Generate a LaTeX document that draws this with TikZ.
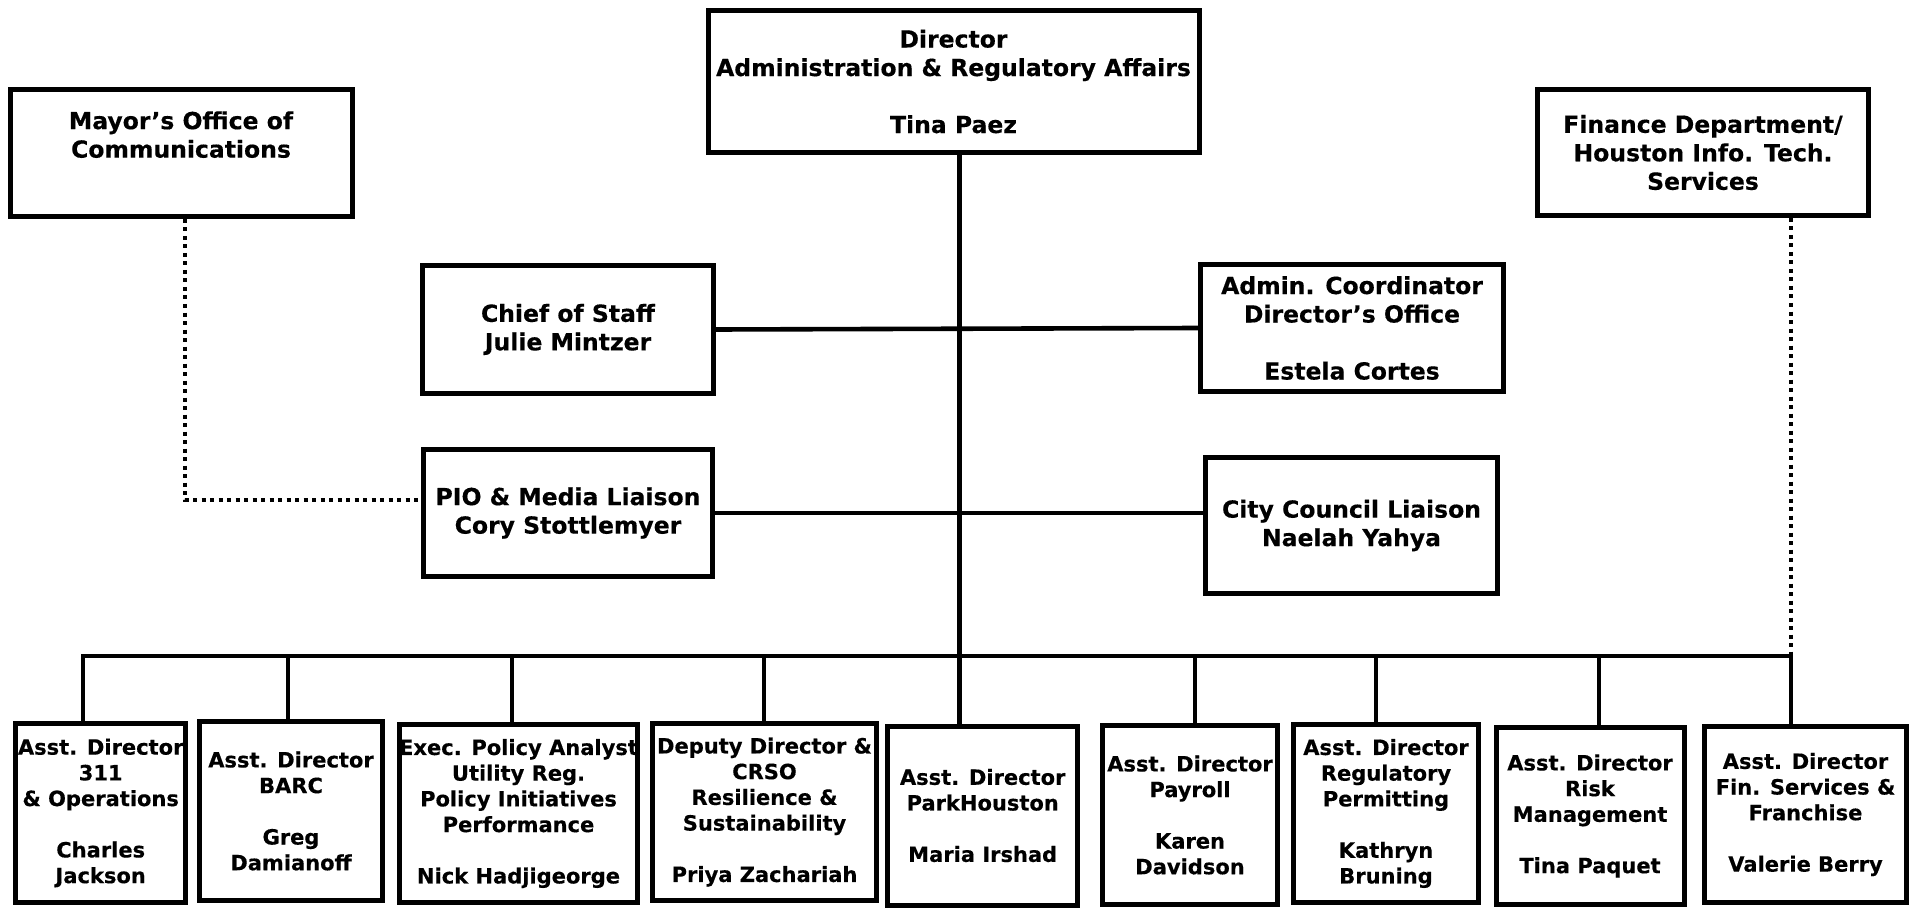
\documentclass[tikz,border=0pt]{standalone}
\usepackage{fontspec}
\setmainfont{DejaVu Sans}[BoldFeatures={FakeBold=0.35}]
\usepackage{xcolor}
\usepackage{tikz}
\usetikzlibrary{positioning}
\definecolor{ink}{HTML}{000000}
\tikzset{
  box/.style={draw=ink, line width=5pt, align=center, inner sep=0pt,
    font=\bfseries\fontsize{23.5}{28.5}\selectfont},
  lowbox/.style={box, font=\bfseries\fontsize{21}{25.7}\selectfont},
  link/.style={draw=ink, line width=4.6pt},
  dotlink/.style={draw=ink, line width=4pt, dash pattern=on 4pt off 4.5pt},
}
\begin{document}
\begin{tikzpicture}[x=1pt,y=-1pt]
\useasboundingbox (0,0) rectangle (1911,909);

% top row
\node[box, minimum width=491pt, minimum height=142pt] (director) at (953.5,81.5)
  {Director\\Administration \& Regulatory Affairs\\\strut\\Tina Paez};
\node[box, minimum width=342pt, minimum height=127pt] (mayor) at (181,153)
  {Mayor’s Office of\\Communications\\\strut};
\node[box, minimum width=331pt, minimum height=126pt] (finance) at (1703,152.5)
  {Finance Department/\\Houston Info. Tech.\\Services};

% staff
\node[box, minimum width=291pt, minimum height=128pt] (chief) at (568,329.5)
  {Chief of Staff\\Julie Mintzer};
\node[box, minimum width=303pt, minimum height=127pt] (admin) at (1352,328)
  {Admin. Coordinator\\Director’s Office\\\strut\\Estela Cortes};
\node[box, minimum width=289pt, minimum height=127pt] (pio) at (568,513)
  {PIO \& Media Liaison\\Cory Stottlemyer};
\node[box, minimum width=292pt, minimum height=136pt] (council) at (1351.5,525.5)
  {City Council Liaison\\Naelah Yahya};

% bottom row
\node[lowbox, minimum width=170pt, minimum height=179pt] (ops) at (100.7,813)
  {Asst. Director\\311\\\& Operations\\\strut\\Charles\\Jackson};
\node[lowbox, minimum width=183pt, minimum height=179pt] (barc) at (291,811)
  {Asst. Director\\BARC\\\strut\\Greg\\Damianoff};
\node[lowbox, minimum width=236pt, minimum height=178pt] (policy) at (518.5,813.5)
  {Exec. Policy Analyst\\Utility Reg.\\Policy Initiatives\\Performance\\\strut\\Nick Hadjigeorge};
\node[lowbox, minimum width=224pt, minimum height=177pt] (deputy) at (764.5,812)
  {Deputy Director \&\\CRSO\\Resilience \&\\Sustainability\\\strut\\Priya Zachariah};
\node[lowbox, minimum width=190pt, minimum height=179pt] (park) at (982.7,815.5)
  {Asst. Director\\ParkHouston\\\strut\\Maria Irshad};
\node[lowbox, minimum width=175pt, minimum height=179pt] (payroll) at (1190,815)
  {Asst. Director\\Payroll\\\strut\\Karen\\Davidson};
\node[lowbox, minimum width=185pt, minimum height=178pt] (permit) at (1386,813.5)
  {Asst. Director\\Regulatory\\Permitting\\\strut\\Kathryn\\Bruning};
\node[lowbox, minimum width=188pt, minimum height=177pt] (risk) at (1590,816)
  {Asst. Director\\Risk\\Management\\\strut\\Tina Paquet};
\node[lowbox, minimum width=202pt, minimum height=176pt] (finserv) at (1805.5,814.5)
  {Asst. Director\\Fin. Services \&\\Franchise\\\strut\\Valerie Berry};

% trunk and side lines
\coordinate (trunk) at ([xshift=6pt]director.south);
\draw[link] (trunk) -- (trunk |- park.north);
\draw[link] (chief.east) -- (admin.west);
\draw[link] (pio.east) -- (pio.east -| council.west);
\draw[dotlink] ([xshift=4pt]mayor.south) |- ([yshift=13pt]pio.west);

% bus
\coordinate (busL) at (83,656);
\coordinate (busR) at (1791,656);
\draw[link] (busL |- ops.north) -- (busL) -- (busR) -- (busR |- finserv.north);
\draw[dotlink] (finance.south -| busR) -- (busR);
\foreach \b/\x in {barc/288, policy/512, deputy/764, payroll/1195, permit/1376, risk/1599}{
  \coordinate (d\b) at (\x,656);
  \draw[link] (d\b) -- (d\b |- \b.north);
}
\end{tikzpicture}
\end{document}
